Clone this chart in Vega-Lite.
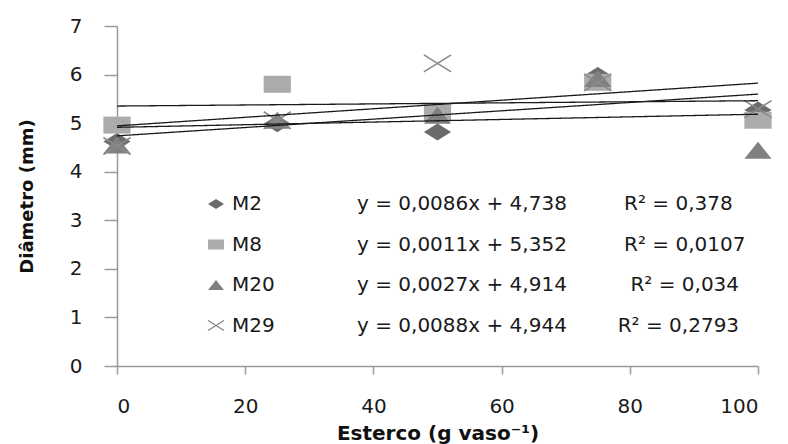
{
  "$schema": "https://vega.github.io/schema/vega-lite/v6.json",
  "width": 641,
  "height": 340,
  "autosize": {"type": "none"},
  "padding": {"left": 117, "top": 26, "right": 30, "bottom": 78},
  "background": "white",
  "config": {
    "view": {"stroke": null},
    "font": "DejaVu Sans",
    "axis": {
      "grid": false,
      "domainColor": "#9a9a9a",
      "domainWidth": 1.5,
      "tickColor": "#9a9a9a",
      "tickWidth": 1.5,
      "labelFont": "DejaVu Sans",
      "labelFontSize": 20,
      "labelColor": "#1a1a1a",
      "titleFont": "DejaVu Sans",
      "titleFontSize": 18,
      "titleFontWeight": "bold",
      "titleColor": "#111111"
    },
    "legend": {
      "padding": 0,
      "labelFont": "DejaVu Sans",
      "labelFontSize": 20,
      "labelColor": "#1a1a1a",
      "labelLimit": 0,
      "rowPadding": 20.5
    }
  },
  "datasets": {
    "pontos": [
      {"serie": "M2", "esterco": 0, "diametro": 4.62},
      {"serie": "M2", "esterco": 25, "diametro": 4.99},
      {"serie": "M2", "esterco": 50, "diametro": 4.82},
      {"serie": "M2", "esterco": 75, "diametro": 5.98},
      {"serie": "M2", "esterco": 100, "diametro": 5.27},
      {"serie": "M8", "esterco": 0, "diametro": 4.96},
      {"serie": "M8", "esterco": 25, "diametro": 5.80},
      {"serie": "M8", "esterco": 50, "diametro": 5.22},
      {"serie": "M8", "esterco": 75, "diametro": 5.84},
      {"serie": "M8", "esterco": 100, "diametro": 5.06},
      {"serie": "M20", "esterco": 0, "diametro": 4.55},
      {"serie": "M20", "esterco": 25, "diametro": 5.06},
      {"serie": "M20", "esterco": 50, "diametro": 5.16},
      {"serie": "M20", "esterco": 75, "diametro": 5.92},
      {"serie": "M20", "esterco": 100, "diametro": 4.44},
      {"serie": "M29", "esterco": 0, "diametro": 4.53},
      {"serie": "M29", "esterco": 25, "diametro": 5.06},
      {"serie": "M29", "esterco": 50, "diametro": 6.23},
      {"serie": "M29", "esterco": 75, "diametro": 5.84},
      {"serie": "M29", "esterco": 100, "diametro": 5.29}
    ],
    "tendencia": [
      {"serie": "M2", "equacao": "y = 0,0086x + 4,738 \u00a0 \u00a0 \u00a0 \u00a0 R² = 0,378", "esterco": 0, "diametro": 4.738},
      {"serie": "M2", "equacao": "y = 0,0086x + 4,738 \u00a0 \u00a0 \u00a0 \u00a0 R² = 0,378", "esterco": 100, "diametro": 5.598},
      {"serie": "M8", "equacao": "y = 0,0011x + 5,352 \u00a0 \u00a0 \u00a0 \u00a0 R² = 0,0107", "esterco": 0, "diametro": 5.352},
      {"serie": "M8", "equacao": "y = 0,0011x + 5,352 \u00a0 \u00a0 \u00a0 \u00a0 R² = 0,0107", "esterco": 100, "diametro": 5.462},
      {"serie": "M20", "equacao": "y = 0,0027x + 4,914 \u00a0 \u00a0 \u00a0 \u00a0 \u00a0R² = 0,034", "esterco": 0, "diametro": 4.914},
      {"serie": "M20", "equacao": "y = 0,0027x + 4,914 \u00a0 \u00a0 \u00a0 \u00a0 \u00a0R² = 0,034", "esterco": 100, "diametro": 5.184},
      {"serie": "M29", "equacao": "y = 0,0088x + 4,944 \u00a0 \u00a0 \u00a0 \u00a0R² = 0,2793", "esterco": 0, "diametro": 4.944},
      {"serie": "M29", "equacao": "y = 0,0088x + 4,944 \u00a0 \u00a0 \u00a0 \u00a0R² = 0,2793", "esterco": 100, "diametro": 5.824}
    ]
  },
  "layer": [
    {
      "data": {"name": "pontos"},
      "mark": {"type": "point", "size": 289, "strokeWidth": 1.6, "opacity": 1},
      "encoding": {
        "x": {
          "field": "esterco", "type": "quantitative",
          "scale": {"domain": [0, 100], "nice": false},
          "axis": {"title": "Esterco (g vaso⁻¹)", "titleFontSize": 20, "values": [0, 20, 40, 60, 80, 100], "tickSize": 8, "labelPadding": 22, "titlePadding": 7}
        },
        "y": {
          "field": "diametro", "type": "quantitative",
          "scale": {"domain": [0, 7], "nice": false},
          "axis": {"title": "Diâmetro (mm)", "values": [0, 1, 2, 3, 4, 5, 6, 7], "tickSize": 13, "labelPadding": 22, "titlePadding": 33}
        },
        "shape": {
          "field": "serie", "type": "nominal",
          "scale": {
            "domain": ["M2", "M8", "M20", "M29"],
            "range": ["M0,-1L1.6,0L0,1L-1.6,0Z", "M-1.6,-1L1.6,-1L1.6,1L-1.6,1Z", "M0,-1L1.6,1L-1.6,1Z", "M-1.6,-1L1.6,1M-1.6,1L1.6,-1"]
          },
          "legend": {"orient": "none", "legendX": 89, "legendY": 168, "title": null, "symbolStrokeWidth": 1.4, "labelOffset": 6, "encode": {"symbols": {"update": {"size": {"value": 150}}}}}
        },
        "fill": {
          "field": "serie", "type": "nominal",
          "scale": {"domain": ["M2", "M8", "M20", "M29"], "range": ["#6b6b6b", "#ababab", "#818181", "transparent"]},
          "legend": {"orient": "none", "legendX": 89, "legendY": 168, "title": null, "symbolStrokeWidth": 1.4, "labelOffset": 6, "encode": {"symbols": {"update": {"size": {"value": 150}}}}}
        },
        "stroke": {
          "field": "serie", "type": "nominal",
          "scale": {"domain": ["M2", "M8", "M20", "M29"], "range": ["transparent", "transparent", "transparent", "#8a8a8a"]},
          "legend": {"orient": "none", "legendX": 89, "legendY": 168, "title": null, "symbolStrokeWidth": 1.4, "labelOffset": 6, "encode": {"symbols": {"update": {"size": {"value": 150}}}}}
        }
      }
    },
    {
      "data": {"name": "tendencia"},
      "mark": {"type": "line", "color": "#1a1a1a", "strokeWidth": 1.3},
      "encoding": {
        "x": {"field": "esterco", "type": "quantitative"},
        "y": {"field": "diametro", "type": "quantitative"},
        "detail": {"field": "serie", "type": "nominal"},
        "strokeDash": {
          "field": "equacao", "type": "nominal",
          "scale": {
            "domain": [
              "y = 0,0086x + 4,738 \u00a0 \u00a0 \u00a0 \u00a0 R² = 0,378",
              "y = 0,0011x + 5,352 \u00a0 \u00a0 \u00a0 \u00a0 R² = 0,0107",
              "y = 0,0027x + 4,914 \u00a0 \u00a0 \u00a0 \u00a0 \u00a0R² = 0,034",
              "y = 0,0088x + 4,944 \u00a0 \u00a0 \u00a0 \u00a0R² = 0,2793"
            ],
            "range": [[1, 0], [1, 0], [1, 0], [1, 0]]
          },
          "legend": {"orient": "none", "legendX": 220, "legendY": 168, "title": null, "symbolSize": 0, "symbolOpacity": 0, "symbolStrokeWidth": 0, "labelOffset": 0}
        }
      }
    }
  ]
}
